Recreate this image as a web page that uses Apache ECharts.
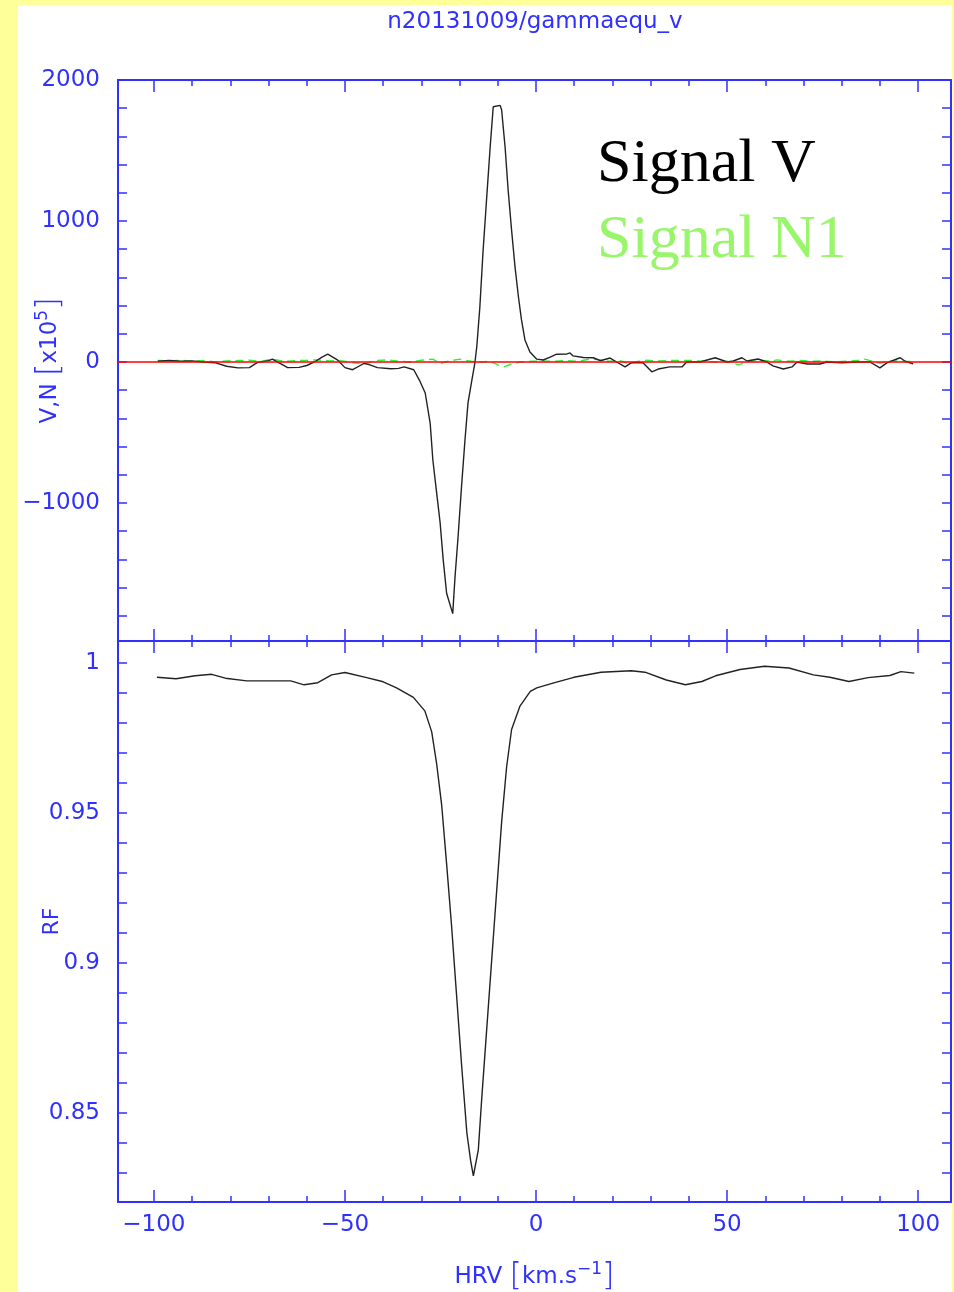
<!DOCTYPE html>
<html>
<head>
<meta charset="utf-8">
<script src="https://cdn.jsdelivr.net/npm/echarts@6/dist/echarts.min.js"></script>
<style>
  html, body { margin: 0; padding: 0; background: #ffff99; }
  #chart { width: 954px; height: 1292px; }
</style>
</head>
<body>
<div id="chart"></div>
<script>
// Stokes V profile (x10^5) against heliocentric radial velocity (km/s)
const vVel = [-99, -96, -93, -90, -87, -84, -81, -78, -75, -73, -70, -69, -67, -65, -62, -60, -58, -56, -54.5, -52,
  -50, -48, -46, -45, -43.5, -41.5, -38, -36, -34.5, -32, -30.5, -29, -27.7, -27, -26, -25.1, -24.3, -23.4, -21.8,
  -21.2, -20.4, -19.5, -18.6, -17.8, -16.8, -16, -15.5, -14.7, -13.9, -12.9, -12, -11.2, -10.7, -9.4, -9, -8.1,
  -7.3, -6.4, -5.5, -4.6, -3.8, -2.9, -1.6, 0.2, 1.9, 3.7, 5.4, 8.1, 8.9, 9.7, 12.4, 15, 16.8, 19.4, 21.1, 23.3,
  25, 28, 30.3, 32, 35, 38.2, 39.4, 42.9, 46.9, 50, 51.6, 53.9, 55.2, 58.1, 60.4, 62, 64.7, 67, 68.3, 71, 74.3,
  76.1, 80, 84, 87.4, 90, 91.9, 95.3, 96.6, 98.7];
const signalV = [5, 10, 5, 8, 0, -5, -30, -42, -40, -5, 10, 20, -10, -40, -38, -25, 0, 35, 55, 15,
  -40, -55, -25, -10, -20, -40, -48, -45, -35, -55, -130, -220, -435, -695, -930, -1140, -1400, -1640, -1785,
  -1525, -1240, -885, -555, -290, -130, -7, 110, 390, 770, 1170, 1525, 1810, 1823, 1820, 1787, 1525,
  1220, 936, 674, 461, 298, 156, 71, 20, 14, 35, 55, 57, 64, 43, 32, 30, 9, 28, 0, -35,
  -5, -5, -70, -50, -35, -35, 0, 0, 30, 0, 7, 30, 7, 21, 0, -28, -50, -35, 0, -14, -14,
  0, -5, 0, 0, -42, -5, 30, 5, -14];

// Null profile N1 (x10^5)
const n1Vel = [-99, -96, -93, -90, -87, -84, -81, -78, -75, -72, -69, -66, -63, -60, -57, -54, -51, -48, -45, -42,
  -39, -36, -33, -30, -27, -25, -23, -20, -17, -14, -12, -10, -8.5, -6, -4, -1, 2, 5, 8, 11, 14, 16, 19, 22, 24,
  27, 29, 32, 35, 38, 41, 44, 47, 50, 53, 56, 59, 62, 63, 66, 69, 72, 75, 78, 81, 84, 86, 88, 90, 92, 94, 96, 98];
const signalN1 = [10, 8, 12, 5, 10, 0, 8, 10, 12, 5, 20, 5, 10, 12, 15, 8, 10, -5, -15, 10,
  15, 5, 0, 12, 20, -10, 5, 20, 5, 0, 5, -20, -35, -10, 0, 5, 8, 5, 10, 5, 20, 18, 5, 10, -10,
  5, 12, 8, 10, 12, 10, 5, 0, 5, -20, 5, 10, 8, 15, 5, 10, 5, 8, 0, 5, 10, 20, 5, -10, 5, 8, 5, 3];

// Intensity profile (relative flux)
const rfVel = [-99.2, -94.2, -89.2, -84.9, -81.3, -75.7, -70, -64.2, -60.7, -57.1, -53.5, -50, -44.3, -40, -36.5,
  -32.1, -29.1, -27.3, -26, -24.7, -23.4, -22.1, -20.8, -19.5, -18.1, -17.1, -16.4, -15.1, -14.2, -12.9, -11.6,
  -10.3, -9, -7.7, -6.4, -4.2, -1.5, 0.2, 4.2, 9.9, 17, 24.9, 28.5, 34.1, 39.1, 43.4, 47, 53.4, 59.8, 66.2, 72.6,
  76.9, 81.9, 86.9, 92.6, 95.5, 99];
const rf = [0.9952, 0.9947, 0.9957, 0.9962, 0.9949, 0.9940, 0.9940, 0.9940, 0.9927, 0.9934, 0.9960, 0.9968, 0.9951,
  0.9937, 0.9917, 0.9885, 0.9840, 0.9770, 0.9663, 0.9527, 0.9330, 0.9123, 0.8893, 0.8663, 0.8433, 0.8340, 0.8290,
  0.8377, 0.8550, 0.8780, 0.9010, 0.9240, 0.9470, 0.9653, 0.9778, 0.9856, 0.9905, 0.9917, 0.9932, 0.9952, 0.9969,
  0.9974, 0.9969, 0.9943, 0.9927, 0.9938, 0.9957, 0.9978, 0.9989, 0.9983, 0.9960, 0.9952, 0.9938, 0.9951, 0.9958,
  0.9971, 0.9966];

// Tick positions and labels
const xMajorTicks = [-100, -50, 0, 50, 100];
const xMinorTicks = [-90, -80, -70, -60, -40, -30, -20, -10, 10, 20, 30, 40, 60, 70, 80, 90];
const vTicks = [-1800, -1600, -1400, -1200, -1000, -800, -600, -400, -200, 0, 200, 400, 600, 800, 1000,
  1200, 1400, 1600, 1800, 2000];
const vLabels = [-1000, 0, 1000, 2000];
const rfTicks = [0.83, 0.84, 0.85, 0.86, 0.87, 0.88, 0.89, 0.9, 0.91, 0.92, 0.93, 0.94, 0.95, 0.96, 0.97, 0.98, 0.99, 1];
const rfLabels = [0.85, 0.9, 0.95, 1];

const zip = (xs, ys) => xs.map((x, i) => [x, ys[i]]);

const BLUE = '#3030ff';
const FONT = 'DejaVu Sans';
const X_MIN = -109.4, X_MAX = 108.6;
const minusSign = v => String(v).replace('-', '\u2212');

function hAxis(grid, pos, ticks, len, withLine, labelled) {
  return {
    type: 'value', gridIndex: grid, position: pos, min: X_MIN, max: X_MAX,
    axisLine: { show: withLine, onZero: false, lineStyle: { color: BLUE, width: 2 } },
    axisTick: { show: true, inside: true, length: len, customValues: ticks, lineStyle: { color: BLUE, width: 1.5 } },
    axisLabel: labelled ? {
      show: true, customValues: xMajorTicks, margin: 12, color: BLUE,
      fontFamily: FONT, fontSize: 23, formatter: minusSign
    } : { show: false },
    splitLine: { show: false }
  };
}

function vAxis(grid, pos, min, max, ticks, labels, name) {
  const ax = {
    type: 'value', gridIndex: grid, position: pos, min: min, max: max,
    axisLine: { show: true, onZero: false, lineStyle: { color: BLUE, width: 2 } },
    axisTick: { show: true, inside: true, length: 9, customValues: ticks, lineStyle: { color: BLUE, width: 1.5 } },
    axisLabel: labels ? {
      show: true, customValues: labels, margin: 18, color: BLUE,
      fontFamily: FONT, fontSize: 23, formatter: minusSign
    } : { show: false },
    splitLine: { show: false }
  };
  if (name) Object.assign(ax, name);
  return ax;
}

const nameRich = {
  a: { fontFamily: FONT, fontSize: 23, color: BLUE },
  b: { fontFamily: FONT, fontSize: 32, color: BLUE, fontWeight: 'lighter' },
  s: { fontFamily: FONT, fontSize: 17, color: BLUE, verticalAlign: 'top', padding: [0, 0, 9, 0] }
};

const chart = echarts.init(document.getElementById('chart'), null, { renderer: 'canvas' });

chart.setOption({
  backgroundColor: '#ffff99',
  animation: false,
  title: {
    text: 'n20131009/gammaequ_v',
    left: 530, top: 6, textAlign: 'center',
    textStyle: { fontFamily: FONT, fontSize: 23, fontWeight: 'normal', color: BLUE }
  },
  legend: {
    orient: 'vertical', left: 587, top: 129, icon: 'none', itemWidth: 0, itemGap: 14,
    selectedMode: false,
    textStyle: { fontFamily: 'Liberation Serif', fontSize: 62 },
    data: [
      { name: 'Signal V', textStyle: { color: '#000000' } },
      { name: 'Signal N1', textStyle: { color: '#99f56a' } }
    ]
  },
  graphic: {
    elements: [{
      type: 'rect', z: -100, silent: true,
      shape: { x: 18, y: 5, width: 934, height: 1287 },
      style: { fill: '#ffffff' }
    }]
  },
  grid: [
    { left: 118, right: 3, top: 80, height: 561, outerBoundsMode: 'none', containLabel: false },
    { left: 118, right: 3, top: 641, height: 561, outerBoundsMode: 'none', containLabel: false }
  ],
  xAxis: [
    hAxis(0, 'bottom', xMajorTicks, 12, true, false),
    hAxis(0, 'bottom', xMinorTicks, 6, false, false),
    hAxis(0, 'top', xMajorTicks, 12, true, false),
    hAxis(0, 'top', xMinorTicks, 6, false, false),
    hAxis(1, 'top', xMajorTicks, 12, true, false),
    hAxis(1, 'top', xMinorTicks, 6, false, false),
    Object.assign(hAxis(1, 'bottom', xMajorTicks, 12, true, true), {
      name: '{a|HRV }{b|[}{a|km.s}{s|\u22121}{b|]}',
      nameLocation: 'middle', nameGap: 59, nameMoveOverlap: false,
      nameTextStyle: { rich: nameRich }
    }),
    hAxis(1, 'bottom', xMinorTicks, 6, false, false)
  ],
  yAxis: [
    vAxis(0, 'left', -1979, 2000, vTicks, vLabels, {
      name: '{a|V,N }{b|[}{a|x10}{s|5}{b|]}',
      nameLocation: 'middle', nameGap: 52, nameMoveOverlap: false,
      nameTextStyle: { rich: nameRich }
    }),
    vAxis(0, 'right', -1979, 2000, vTicks, null, null),
    vAxis(1, 'left', 0.8203, 1.0073, rfTicks, rfLabels, {
      name: 'RF', nameLocation: 'middle', nameGap: 55, nameMoveOverlap: false,
      nameTextStyle: { fontFamily: FONT, fontSize: 22, color: BLUE }
    }),
    vAxis(1, 'right', 0.8203, 1.0073, rfTicks, null, null)
  ],
  series: [
    {
      name: 'Signal N1', type: 'line', xAxisIndex: 0, yAxisIndex: 0,
      data: zip(n1Vel, signalN1), showSymbol: false, z: 2,
      lineStyle: { color: '#33ee33', width: 1.4, type: [8, 5] },
      itemStyle: { color: '#99f56a' },
      markLine: {
        silent: true, symbol: 'none', label: { show: false },
        lineStyle: { color: '#ff0000', width: 1.5, type: 'solid' },
        data: [{ yAxis: 0 }]
      }
    },
    {
      name: 'Signal V', type: 'line', xAxisIndex: 0, yAxisIndex: 0,
      data: zip(vVel, signalV), showSymbol: false, z: 4,
      lineStyle: { color: '#222222', width: 1.4 },
      itemStyle: { color: '#000000' }
    },
    {
      name: 'RF', type: 'line', xAxisIndex: 4, yAxisIndex: 2,
      data: zip(rfVel, rf), showSymbol: false,
      lineStyle: { color: '#222222', width: 1.4 },
      itemStyle: { color: '#000000' }
    }
  ]
});
</script>
</body>
</html>
